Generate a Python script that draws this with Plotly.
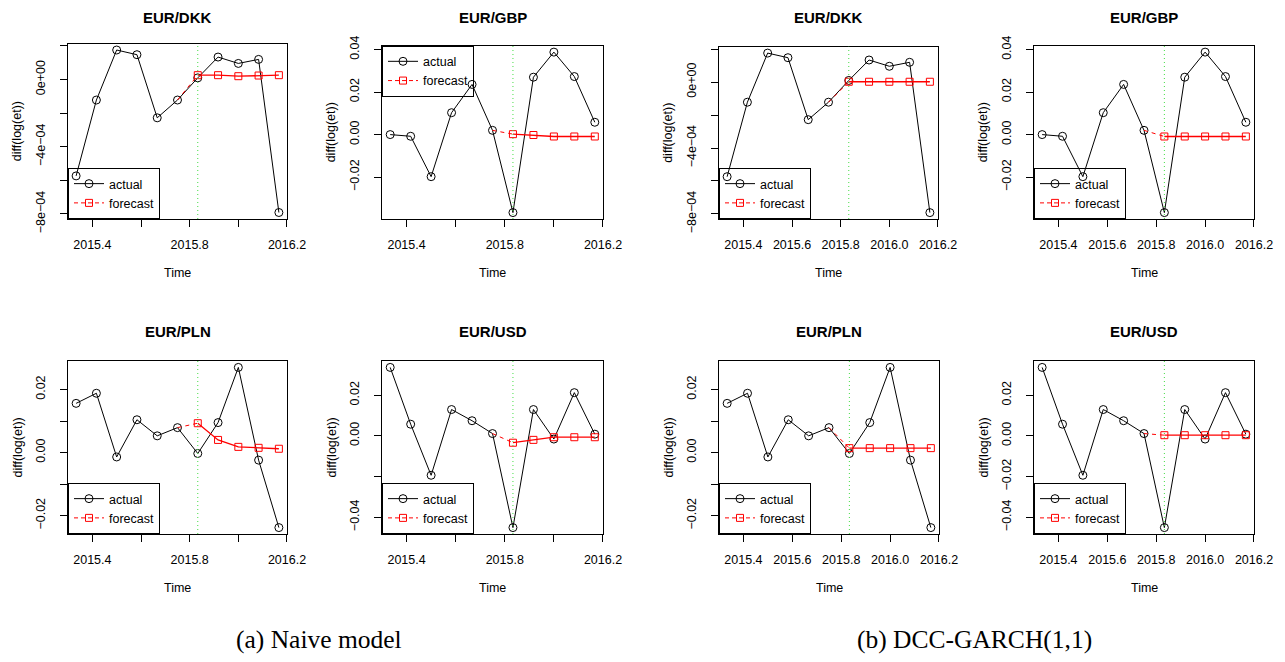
import plotly.graph_objects as go

# page is 1285x662; the html body adds an 8px margin around the figure
PAGE_W, PAGE_H = 1285, 662
OFF = 8
W, H = PAGE_W - 2 * OFF, PAGE_H - 2 * OFF

# ---------------- data ----------------
time_actual = [2015.3333, 2015.4167, 2015.5, 2015.5833, 2015.6667, 2015.75,
               2015.8333, 2015.9167, 2016.0, 2016.0833, 2016.1667]
time_forecast = [2015.8333, 2015.9167, 2016.0, 2016.0833, 2016.1667]
forecast_start = 2015.8333

dkk_actual = [-5.74e-4, -1.22e-4, 1.76e-4, 1.48e-4, -2.28e-4, -1.22e-4,
              0.10e-4, 1.34e-4, 0.96e-4, 1.20e-4, -7.92e-4]
gbp_actual = [0.0000, -0.0008, -0.0198, 0.0103, 0.0236, 0.0020,
              -0.0367, 0.0270, 0.0388, 0.0273, 0.0058]
pln_actual = [0.0156, 0.0188, -0.0014, 0.0104, 0.0053, 0.0079,
              -0.0003, 0.0095, 0.0270, -0.0024, -0.0238]
usd_actual = [0.0336, 0.0057, -0.0194, 0.0129, 0.0074, 0.0011,
              -0.0451, 0.0129, -0.0016, 0.0212, 0.0008]

dkk_naive = [2.6e-5, 2.6e-5, 2.0e-5, 2.4e-5, 2.6e-5]
gbp_naive = [0.0002, -0.0002, -0.0009, -0.0009, -0.0009]
pln_naive = [0.0093, 0.0040, 0.0018, 0.0015, 0.0012]
usd_naive = [-0.0034, -0.0020, -0.0007, -0.0007, -0.0007]

dkk_dcc = [0.2e-5, 0.2e-5, 0.2e-5, 0.2e-5, 0.2e-5]
gbp_dcc = [-0.0009, -0.0009, -0.0009, -0.0009, -0.0009]
pln_dcc = [0.0014, 0.0014, 0.0014, 0.0014, 0.0014]
usd_dcc = [0.0003, 0.0003, 0.0003, 0.0003, 0.0003]

x_tickvals = [2015.4, 2015.6, 2015.8, 2016.0, 2016.2]
x_ticktext_naive = ["2015.4", "", "2015.8", "", "2016.2"]
x_ticktext_dcc = ["2015.4", "2015.6", "2015.8", "2016.0", "2016.2"]

dkk_ytickvals = [2e-4, 0.0, -2e-4, -4e-4, -6e-4, -8e-4]
dkk_yticktext = ["", "0e+00", "", "\u22124e\u221204", "", "\u22128e\u221204"]
gbp_ytickvals = [0.04, 0.02, 0.0, -0.02]
gbp_yticktext = ["0.04", "0.02", "0.00", "\u22120.02"]
pln_ytickvals = [0.02, 0.01, 0.0, -0.01, -0.02]
pln_yticktext = ["0.02", "", "0.00", "", "\u22120.02"]
usd_ytickvals = [0.02, 0.0, -0.02, -0.04]
usd_yticktext_naive = ["0.02", "0.00", "", "\u22120.04"]
usd_yticktext_dcc = ["0.02", "0.00", "\u22120.02", "\u22120.04"]

captions = ["(a) Naive model", "(b) DCC-GARCH(1,1)"]

# ---------------- layout helpers ----------------
FONT = "Liberation Sans, Arial, Helvetica, sans-serif"
SERIF = "Liberation Serif, Times New Roman, serif"

def px_x(v):
    return (v - OFF) / W

def px_y(v):
    return 1 - (v - OFF) / H

# panels: title, actual, forecast, yticks, yticktext, xticktext, box(l,r,t,b) in page px, legend position
panels = [
    ("EUR/DKK", dkk_actual, dkk_naive, dkk_ytickvals, dkk_yticktext, x_ticktext_naive, (68, 287, 43.5, 219), "bottom"),
    ("EUR/GBP", gbp_actual, gbp_naive, gbp_ytickvals, gbp_yticktext, x_ticktext_naive, (382, 603, 45.7, 219), "top"),
    ("EUR/DKK", dkk_actual, dkk_dcc, dkk_ytickvals, dkk_yticktext, x_ticktext_dcc, (719, 938, 46.7, 219), "bottom"),
    ("EUR/GBP", gbp_actual, gbp_dcc, gbp_ytickvals, gbp_yticktext, x_ticktext_dcc, (1034, 1254, 45.7, 219), "bottom"),
    ("EUR/PLN", pln_actual, pln_naive, pln_ytickvals, pln_yticktext, x_ticktext_naive, (68, 287, 361, 534), "bottom"),
    ("EUR/USD", usd_actual, usd_naive, usd_ytickvals, usd_yticktext_naive, x_ticktext_naive, (382, 603, 361, 534), "bottom"),
    ("EUR/PLN", pln_actual, pln_dcc, pln_ytickvals, pln_yticktext, x_ticktext_dcc, (719, 939, 361, 534), "bottom"),
    ("EUR/USD", usd_actual, usd_dcc, usd_ytickvals, usd_yticktext_dcc, x_ticktext_dcc, (1034, 1254, 361, 534), "bottom"),
]

fig = go.Figure()
layout = dict(
    width=W, height=H,
    margin=dict(l=0, r=0, t=0, b=0, pad=0, autoexpand=False),
    paper_bgcolor="white", plot_bgcolor="white",
    font=dict(family=FONT, size=12.5, color="black"),
    showlegend=True,
)
annotations = []
shapes = []

xmin, xmax = min(time_actual), max(time_actual)
xpad = 0.04 * (xmax - xmin)

for i, (title, actual, fc, ytv, ytt, xtt, box, legpos) in enumerate(panels):
    n = i + 1
    xa = "x" if n == 1 else f"x{n}"
    ya = "y" if n == 1 else f"y{n}"
    leg = "legend" if n == 1 else f"legend{n}"
    l, r, t, b = box

    allv = actual + fc
    lo, hi = min(allv), max(allv)
    pad = 0.04 * (hi - lo)

    axis_common = dict(
        showline=True, mirror=True, linecolor="black", linewidth=1,
        ticks="outside", ticklen=7, tickwidth=1, tickcolor="black",
        showgrid=False, zeroline=False, automargin=False,
        tickfont=dict(family=FONT, size=12.5, color="black"),
    )
    layout[f"xaxis{'' if n == 1 else n}"] = dict(
        axis_common, domain=[px_x(l), px_x(r)], anchor=ya,
        range=[xmin - xpad, xmax + xpad],
        tickmode="array", tickvals=x_tickvals, ticktext=xtt,
        ticklabelstandoff=7,
    )
    layout[f"yaxis{'' if n == 1 else n}"] = dict(
        axis_common, domain=[px_y(b), px_y(t)], anchor=xa,
        range=[lo - pad, hi + pad],
        tickmode="array", tickvals=ytv, ticktext=ytt,
        tickangle=-90, ticklabelstandoff=10,
    )

    # actual series
    fig.add_trace(go.Scatter(
        x=time_actual, y=actual, mode="lines+markers", xaxis=xa, yaxis=ya,
        line=dict(color="black", width=1),
        marker=dict(symbol="circle-open", size=8, color="black", line=dict(width=1)),
        showlegend=False, hoverinfo="skip",
    ))
    # dashed connector from last observed value before forecast to first forecast
    k = time_actual.index(time_forecast[0]) - 1
    fig.add_trace(go.Scatter(
        x=[time_actual[k], time_forecast[0]], y=[actual[k], fc[0]], mode="lines",
        xaxis=xa, yaxis=ya,
        line=dict(color="red", width=1, dash="4px,4px"),
        showlegend=False, hoverinfo="skip",
    ))
    # forecast series
    fig.add_trace(go.Scatter(
        x=time_forecast, y=fc, mode="lines+markers", xaxis=xa, yaxis=ya,
        line=dict(color="red", width=1.3),
        marker=dict(symbol="square-open", size=7, color="red", line=dict(width=1)),
        showlegend=False, hoverinfo="skip",
    ))
    # legend entries
    fig.add_trace(go.Scatter(
        x=[None], y=[None], mode="lines+markers", xaxis=xa, yaxis=ya,
        name="actual", legend=leg,
        line=dict(color="black", width=1),
        marker=dict(symbol="circle-open", size=8, color="black", line=dict(width=1)),
    ))
    fig.add_trace(go.Scatter(
        x=[None], y=[None], mode="lines+markers", xaxis=xa, yaxis=ya,
        name="forecast", legend=leg,
        line=dict(color="red", width=1, dash="4px,3px"),
        marker=dict(symbol="square-open", size=7, color="red", line=dict(width=1)),
    ))
    if legpos == "bottom":
        legd = dict(x=px_x(l), y=px_y(b), yanchor="bottom")
    else:
        legd = dict(x=px_x(l), y=px_y(t), yanchor="top")
    layout[leg] = dict(
        legd, xanchor="left", xref="paper", yref="paper",
        bgcolor="rgba(0,0,0,0)", bordercolor="black", borderwidth=1,
        font=dict(family=FONT, size=12.5, color="black"),
        tracegroupgap=0, itemwidth=30,
    )

    # vertical dotted line at forecast origin
    shapes.append(dict(
        type="line", xref=xa, yref=f"{ya} domain",
        x0=forecast_start, x1=forecast_start, y0=0, y1=1,
        line=dict(color="#44dd44", width=1, dash="1px,3px"),
    ))

    cx = px_x((l + r) / 2)
    ty = 17.5 if t < 200 else 331
    annotations.append(dict(
        text=f"<b>{title}</b>", x=cx, y=px_y(ty), xref="paper", yref="paper",
        showarrow=False, xanchor="center", yanchor="middle",
        font=dict(family=FONT, size=15, color="black"),
    ))
    annotations.append(dict(
        text="Time", x=cx, y=px_y(b + 54), xref="paper", yref="paper",
        showarrow=False, xanchor="center", yanchor="middle",
        font=dict(family=FONT, size=12.5, color="black"),
    ))
    annotations.append(dict(
        text="diff(log(et))", x=px_x(l - 51), y=px_y((t + b) / 2), xref="paper", yref="paper",
        showarrow=False, xanchor="center", yanchor="middle", textangle=-90,
        font=dict(family=FONT, size=12.5, color="black"),
    ))

annotations.append(dict(
    text=captions[0], x=px_x(318.7), y=px_y(639), xref="paper", yref="paper",
    showarrow=False, xanchor="center", yanchor="middle",
    font=dict(family=SERIF, size=25.5, color="black"),
))
annotations.append(dict(
    text=captions[1], x=px_x(974), y=px_y(639), xref="paper", yref="paper",
    showarrow=False, xanchor="center", yanchor="middle",
    font=dict(family=SERIF, size=25.5, color="black"),
))

layout["annotations"] = annotations
layout["shapes"] = shapes
fig.update_layout(**layout)
fig.write_html("out.html")
